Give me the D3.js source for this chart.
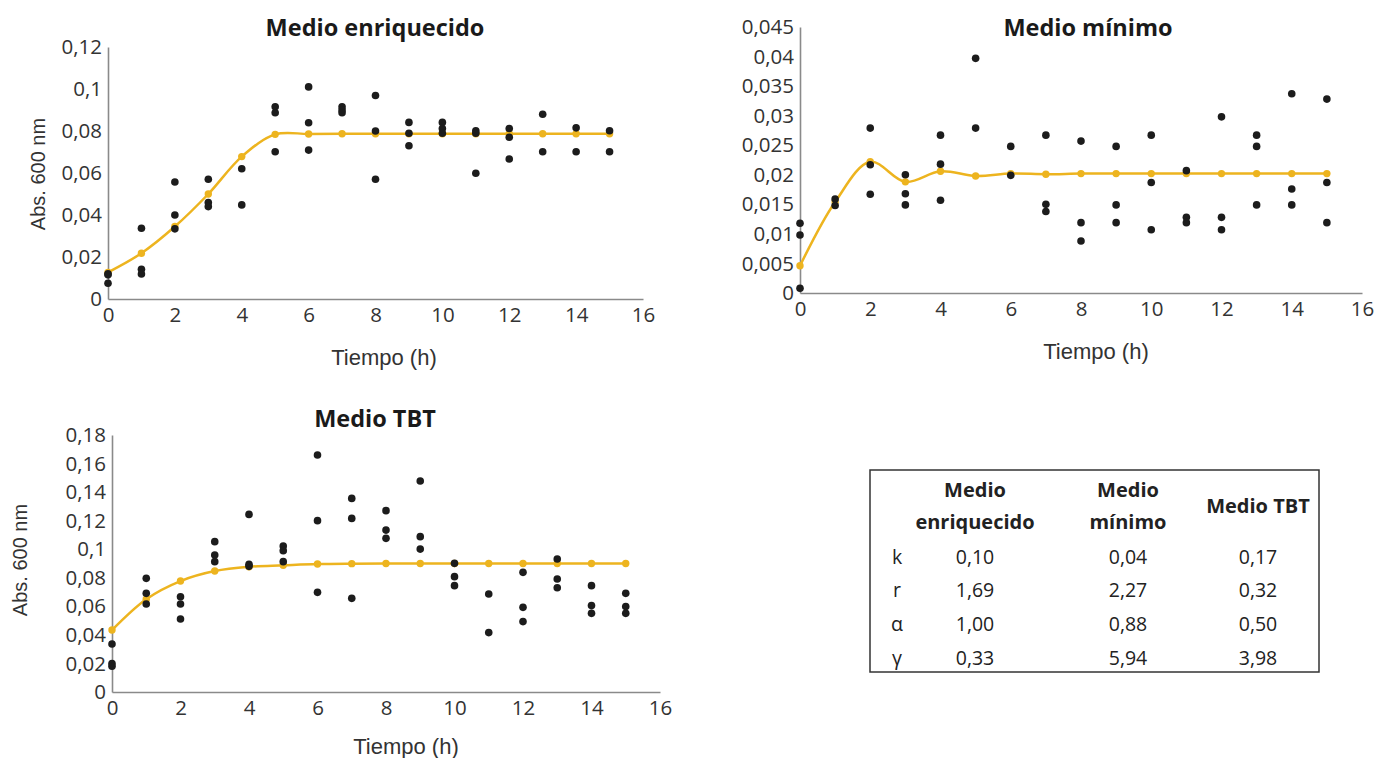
<!DOCTYPE html>
<html>
<head>
<meta charset="utf-8">
<script src="https://cdn.jsdelivr.net/npm/d3@7"></script>
<style>
  body { margin: 0; background: #fff; }
  svg { display: block; }
</style>
</head>
<body>
<div id="chart"></div>
<script>
// ---- data ----
const hours = d3.range(0, 16);
const xTicks = [0, 2, 4, 6, 8, 10, 12, 14, 16];

// replicate absorbance readings per hour (black dots)
const enrObs = [
  [0.012, 0.0075, 0.0115], [0.0337, 0.0142, 0.0119], [0.0557, 0.040, 0.0334], [0.057, 0.0459, 0.044],
  [0.062, 0.0448], [0.0915, 0.0887, 0.0701], [0.101, 0.0839, 0.0709], [0.0915, 0.090, 0.0887],
  [0.0969, 0.080, 0.057], [0.0841, 0.0789, 0.073], [0.0841, 0.0812, 0.0789], [0.0801, 0.0789, 0.0599],
  [0.0812, 0.077, 0.0667], [0.088, 0.0701], [0.0815, 0.0701], [0.0801, 0.0701]
];
const minObs = [
  [0.0118, 0.0098, 0.0008], [0.0159, 0.0148], [0.0279, 0.0217, 0.0167], [0.020, 0.0168, 0.0149],
  [0.0267, 0.0218, 0.0157], [0.0397, 0.0279], [0.0248, 0.0199], [0.0267, 0.015, 0.0138],
  [0.0257, 0.0119, 0.0088], [0.0248, 0.0149, 0.0119], [0.0267, 0.0187, 0.0107], [0.0207, 0.0128, 0.0119],
  [0.0298, 0.0128, 0.0107], [0.0267, 0.0248, 0.0149], [0.0337, 0.0176, 0.0149], [0.0328, 0.0187, 0.0119]
];
const tbtObs = [
  [0.0336, 0.020, 0.018], [0.0796, 0.0691, 0.0616], [0.0667, 0.0616, 0.0511], [0.1053, 0.0959, 0.0913],
  [0.1244, 0.0894, 0.088], [0.1022, 0.099, 0.0913], [0.166, 0.12, 0.0698], [0.1356, 0.1216, 0.0656],
  [0.127, 0.1134, 0.1076], [0.1478, 0.1088, 0.1001], [0.0901, 0.0808, 0.0745], [0.0686, 0.0416],
  [0.0838, 0.0593, 0.0493], [0.0931, 0.0791, 0.073], [0.0745, 0.0605, 0.0551], [0.0691, 0.0598, 0.0551]
];

// fitted model (yellow curve)
const enrFit = [0.0127, 0.0218, 0.0345, 0.050, 0.0678, 0.0784, 0.0786, 0.0787, 0.0787, 0.0787, 0.0787, 0.0787, 0.0787, 0.0787, 0.0787, 0.0787];
const minFit = [0.0046, 0.0154, 0.0222, 0.0188, 0.0206, 0.0198, 0.0202, 0.0201, 0.0202, 0.0202, 0.0202, 0.0202, 0.0202, 0.0202, 0.0202, 0.0202];
const tbtFit = [0.0434, 0.065, 0.0777, 0.0847, 0.0877, 0.0887, 0.0896, 0.0899, 0.090, 0.090, 0.090, 0.090, 0.090, 0.090, 0.090, 0.090];

const enrYTicks = [0, 0.02, 0.04, 0.06, 0.08, 0.1, 0.12];
const minYTicks = [0, 0.005, 0.01, 0.015, 0.02, 0.025, 0.03, 0.035, 0.04, 0.045];
const tbtYTicks = [0, 0.02, 0.04, 0.06, 0.08, 0.1, 0.12, 0.14, 0.16, 0.18];

// parameter table
const tableHeaders = [["Medio", "enriquecido"], ["Medio", "mínimo"], ["Medio TBT"]];
const paramNames = ["k", "r", "α", "γ"];
const paramValues = [
  [0.10, 0.04, 0.17],
  [1.69, 2.27, 0.32],
  [1.00, 0.88, 0.50],
  [0.33, 5.94, 3.98]
];

// ---- drawing ----
const W = 1383, H = 758;
const yellow = "#EDB41F";
const comma = (d) => String(d).replace(".", ",");

const svg = d3.select("#chart").append("svg")
  .attr("width", W).attr("height", H)
  .style("font-family", "'Open Sans', sans-serif");

svg.append("rect").attr("width", W).attr("height", H).attr("fill", "#fff");

const panels = [
  { title: "Medio enriquecido", obs: enrObs, fit: enrFit, yTicks: enrYTicks,
    x0: 108, x1: 643, yTop: 47, yBot: 299, titleX: 375, titleY: 28,
    xTitleX: 384, xTitleY: 357, yTitle: true, yTitleX: 38, yTitleY: 174 },
  { title: "Medio mínimo", obs: minObs, fit: minFit, yTicks: minYTicks,
    x0: 800, x1: 1362, yTop: 27, yBot: 293, titleX: 1088, titleY: 28,
    xTitleX: 1096, xTitleY: 351, yTitle: false },
  { title: "Medio TBT", obs: tbtObs, fit: tbtFit, yTicks: tbtYTicks,
    x0: 112, x1: 660, yTop: 435, yBot: 692, titleX: 375, titleY: 419,
    xTitleX: 406, xTitleY: 746, yTitle: true, yTitleX: 20, yTitleY: 560 }
];

panels.forEach((p) => {
  const x = d3.scaleLinear().domain([0, 16]).range([p.x0, p.x1]);
  const y = d3.scaleLinear().domain([0, d3.max(p.yTicks)]).range([p.yBot, p.yTop]);
  const g = svg.append("g");

  // axes
  const yAxis = g.append("g")
    .attr("transform", `translate(${p.x0},0)`)
    .call(d3.axisLeft(y).tickValues(p.yTicks).tickSize(0).tickPadding(6).tickFormat(comma));
  const xAxis = g.append("g")
    .attr("transform", `translate(0,${p.yBot})`)
    .call(d3.axisBottom(x).tickValues(xTicks).tickSize(0).tickPadding(8).tickFormat(d3.format("d")));
  [yAxis, xAxis].forEach((a) => {
    a.select(".domain").attr("stroke", "#8a8a8a").attr("stroke-width", 1.6);
    a.selectAll("text")
      .style("font-family", "'Open Sans', sans-serif")
      .style("font-size", "20.5px")
      .attr("fill", "#333");
  });

  // title
  g.append("text")
    .attr("x", p.titleX).attr("y", p.titleY)
    .attr("text-anchor", "middle").attr("dy", "0.35em")
    .style("font-size", "23.5px").style("font-weight", "bold")
    .attr("fill", "#1a1a1a")
    .text(p.title);

  // axis titles
  g.append("text")
    .attr("x", p.xTitleX).attr("y", p.xTitleY)
    .attr("text-anchor", "middle").attr("dy", "0.35em")
    .style("font-family", "'Liberation Sans', Arial, sans-serif")
    .style("font-size", "22px").attr("fill", "#333")
    .text("Tiempo (h)");
  if (p.yTitle) {
    g.append("text")
      .attr("transform", `translate(${p.yTitleX},${p.yTitleY}) rotate(-90)`)
      .attr("text-anchor", "middle").attr("dy", "0.35em")
      .style("font-family", "'Liberation Sans', Arial, sans-serif")
      .style("font-size", "20px").attr("fill", "#333")
      .text("Abs. 600 nm");
  }

  // fitted curve
  const line = d3.line()
    .x((d, i) => x(hours[i]))
    .y((d) => y(d))
    .curve(d3.curveCatmullRom.alpha(0.5));
  g.append("path")
    .datum(p.fit)
    .attr("d", line)
    .attr("fill", "none")
    .attr("stroke", yellow)
    .attr("stroke-width", 2.5);
  g.selectAll(".fit")
    .data(p.fit)
    .join("circle")
    .attr("cx", (d, i) => x(hours[i]))
    .attr("cy", (d) => y(d))
    .attr("r", 3.7)
    .attr("fill", yellow);

  // observed points
  const pts = [];
  p.obs.forEach((vals, i) => vals.forEach((v) => pts.push({ t: hours[i], v })));
  g.selectAll(".obs")
    .data(pts)
    .join("circle")
    .attr("cx", (d) => x(d.t))
    .attr("cy", (d) => y(d.v))
    .attr("r", 3.8)
    .attr("fill", "#1c1c1c");
});

// ---- table ----
const tbl = svg.append("g");
tbl.append("rect")
  .attr("x", 870).attr("y", 470).attr("width", 449).attr("height", 202)
  .attr("fill", "#fff").attr("stroke", "#333").attr("stroke-width", 1.5);

// columns are not evenly spaced in the picture
const colPos = [975, 1128, 1258];
const rowY = d3.scaleLinear().domain([0, paramNames.length - 1]).range([557, 658]);

tableHeaders.forEach((lines, c) => {
  const mid = 506;
  const lh = 32;
  lines.forEach((ln, k) => {
    tbl.append("text")
      .attr("x", colPos[c])
      .attr("y", mid + (k - (lines.length - 1) / 2) * lh)
      .attr("dy", "0.35em").attr("text-anchor", "middle")
      .style("font-size", "20px").style("font-weight", "bold")
      .attr("fill", "#222")
      .text(ln);
  });
});

paramNames.forEach((name, r) => {
  tbl.append("text")
    .attr("x", 897).attr("y", rowY(r)).attr("dy", "0.35em")
    .attr("text-anchor", "middle")
    .style("font-size", "19.5px").attr("fill", "#222")
    .text(name);
  paramValues[r].forEach((v, c) => {
    tbl.append("text")
      .attr("x", colPos[c]).attr("y", rowY(r)).attr("dy", "0.35em")
      .attr("text-anchor", "middle")
      .style("font-size", "19.5px").attr("fill", "#222")
      .text(v.toFixed(2).replace(".", ","));
  });
});
</script>
</body>
</html>
